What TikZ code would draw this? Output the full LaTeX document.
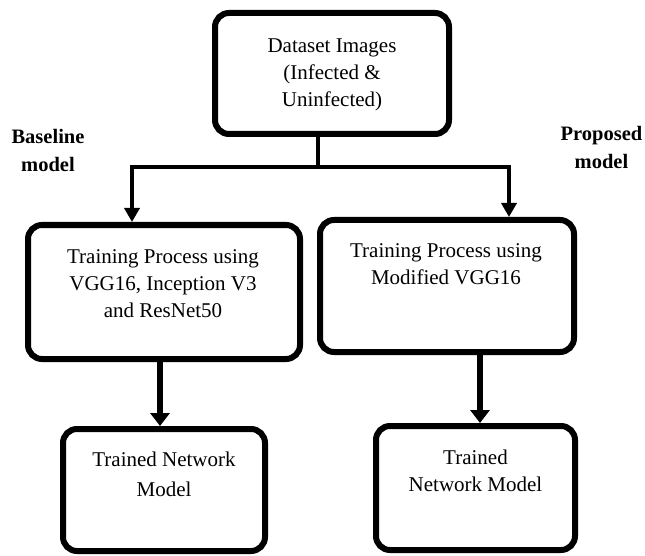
\documentclass[tikz,border=0pt]{standalone}
\usepackage{fontspec}
\setmainfont{Liberation Serif}
\usetikzlibrary{arrows.meta}
\begin{document}
\begin{tikzpicture}[x=1pt,y=-1pt,
  box/.style={draw, rectangle, line width=6pt, rounded corners=14pt, inner sep=0pt},
  txt/.style={align=center, inner sep=0pt, font=\fontsize{21}{27}\selectfont},
  lbl/.style={align=center, inner sep=0pt, font=\fontsize{20.5}{28}\selectfont\bfseries},
  conn/.style={line width=4pt},
  arr/.style={line width=4pt, -{Triangle[width=15pt,length=14pt]}},
  arrb/.style={line width=5.5pt, -{Triangle[width=19pt,length=13pt]}}]
\useasboundingbox (0,0) rectangle (645,556);

% boxes
\node[box, minimum width=234pt, minimum height=121pt] (top) at (332,73.5) {};
\node[box, minimum width=272pt, minimum height=134pt] (left) at (164,292) {};
\node[box, minimum width=254pt, minimum height=132pt] (right) at (447,286) {};
\node[box, minimum width=202pt, minimum height=122pt] (bl) at (164,490) {};
\node[box, minimum width=199pt, minimum height=124pt] (br) at (475.5,488) {};

% texts
\node[txt] (ttop) at (332,74.5) {Dataset Images\\(Infected \&\\Uninfected)};
\node[txt] (tleft) at (163,284) {Training Process using\\VGG16, Inception V3\\and ResNet50};
\node[txt] (tright) at (446,264) {Training Process using\\Modified VGG16};
\node[txt, font=\fontsize{21}{30}\selectfont] (tbl) at (164,474) {Trained Network\\Model};
\node[txt] (tbr) at (475.5,470.5) {Trained\\Network Model};

% side labels
\node[lbl] (base) at (48,150) {Baseline\\model};
\node[lbl] (prop) at (601.5,147) {Proposed\\model};

% connectors
\coordinate (j) at (318,167);
\coordinate (jl) at (132,167);
\coordinate (jr) at (509,167);
\draw[conn] (top.south -| j) -- (j);
\draw[arr] (j) -- (jl) -- (left.north -| jl);
\draw[arr] (j) -- (jr) -- (right.north -| jr);
\draw[arrb] ([xshift=-4pt]left.south) -- ([xshift=-4pt]bl.north);
\draw[arrb] ([xshift=33pt]right.south) -- ([xshift=4.5pt]br.north);
\end{tikzpicture}
\end{document}
